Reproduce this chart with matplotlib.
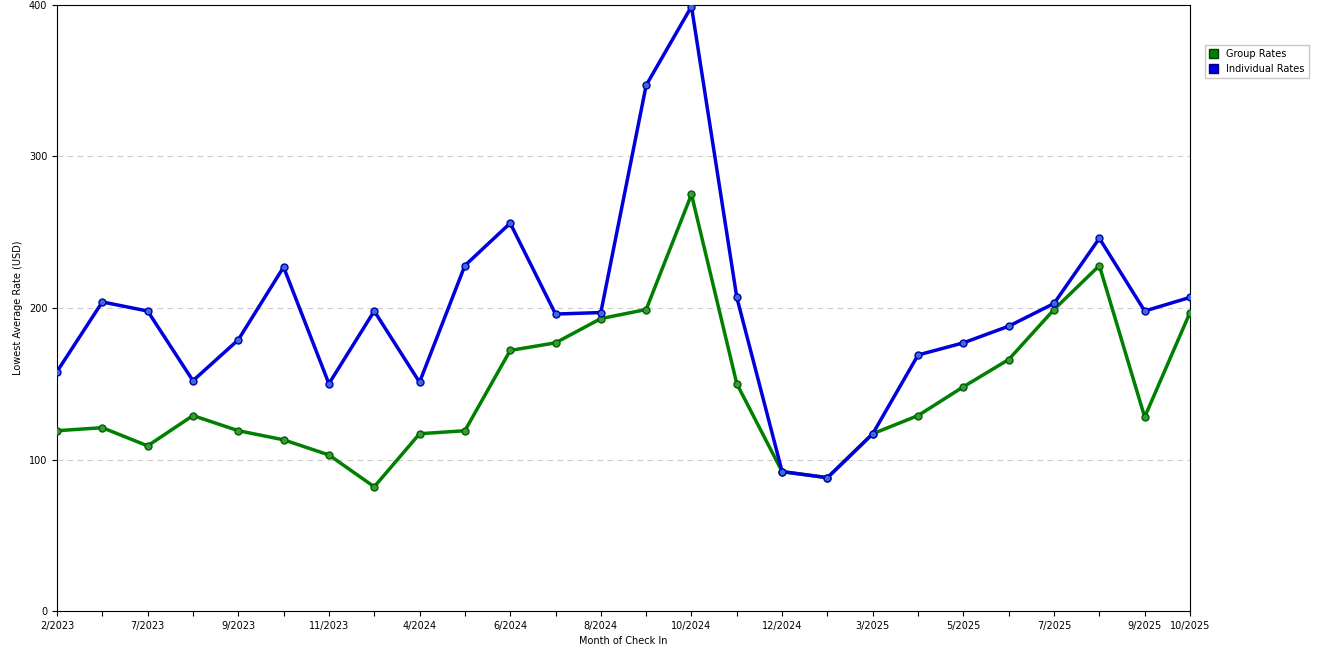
import matplotlib
matplotlib.use("Agg")
import matplotlib.pyplot as plt
from matplotlib.patches import Patch

labels = ["2/2023","","7/2023","","9/2023","","11/2023","","4/2024","","6/2024","","8/2024","",
          "10/2024","","12/2024","","3/2025","","5/2025","","7/2025","","9/2025","10/2025"]
individual = [158,204,198,152,179,227,150,198,151,228,256,196,197,347,399,207,92,88,117,169,177,188,203,246,198,207]
group = [119,121,109,129,119,113,103,82,117,119,172,177,193,199,275,150,92,88,117,129,148,166,199,228,128,197]

fig = plt.figure(figsize=(13.2, 6.6), dpi=100)
ax = fig.add_axes([57/1320, 1-611/660, (1190-57)/1320, (611-5)/660])
x = list(range(len(labels)))
ax.plot(x, group, color="#008000", lw=2.5, marker="o", ms=5, mfc="#3a9a3a", mec="#006000", zorder=3)
ax.plot(x, individual, color="#0000dd", lw=2.5, marker="o", ms=5, mfc="#3a6ae0", mec="#0000aa", zorder=3)
ax.set_xlim(0, len(x)-1)
ax.set_ylim(0, 400)
ax.set_yticks([0,100,200,300,400])
ax.set_xticks(x)
ax.set_xticklabels(labels, fontsize=7)
ax.tick_params(axis="y", labelsize=7)
for y in [100,200,300]:
    ax.axhline(y, color="#cccccc", ls=(0,(5,4)), lw=0.8, zorder=1)
ax.set_xlabel("Month of Check In", fontsize=7)
ax.set_ylabel("Lowest Average Rate (USD)", fontsize=7)
fig.legend(handles=[Patch(facecolor="#008000", edgecolor="#004000", label="Group Rates"),
                    Patch(facecolor="#0000dd", edgecolor="#000080", label="Individual Rates")],
           loc="upper left", bbox_to_anchor=(1200/1320, 1-40/660), fontsize=7,
           fancybox=False, edgecolor="#bbbbbb", handlelength=1, handleheight=1)
fig.savefig("out.png", dpi=100)
